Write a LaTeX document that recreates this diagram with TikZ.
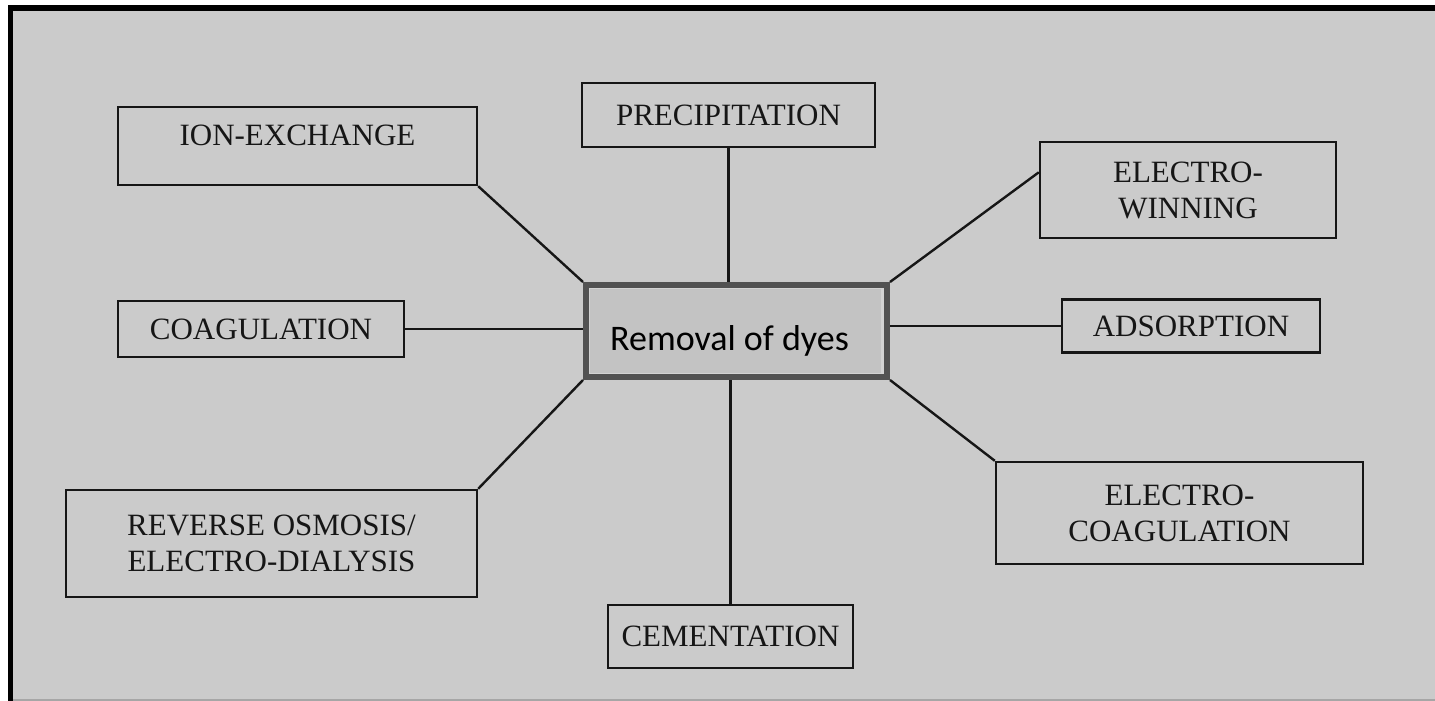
\documentclass[tikz,border=0pt]{standalone}
\usepackage{fontspec}
\setmainfont{Liberation Serif}
\newfontfamily\calfont{Carlito}
\usetikzlibrary{calc}
\definecolor{bggrey}{HTML}{CBCBCB}
\definecolor{ink}{HTML}{161616}
\definecolor{cborder}{HTML}{525252}
\definecolor{cband}{HTML}{D3D3D3}
\definecolor{cfill}{HTML}{C3C3C3}
\tikzset{
  procbox/.style={draw=ink, line width=1.2pt, fill=bggrey, inner sep=0pt, align=center,
    font=\fontsize{15.5pt}{18pt}\selectfont, text=ink},
  link/.style={draw=ink, line width=1.2pt},
  centrebox/.style={draw=cborder, line width=3pt, fill=cband, inner sep=0pt,
    minimum width=150.5pt, minimum height=46pt}
}
\begin{document}
\begin{tikzpicture}[x=0.5pt,y=-0.5pt]
\useasboundingbox (0,0) rectangle (1435,701);
\fill[white] (0,0) rectangle (1435,701);
\fill[bggrey] (8,5) rectangle (1435,701);
\fill[black] (8,5) rectangle (13,701);
\fill[black] (8,5) rectangle (1435,11);
\fill[gray!70] (13,699) rectangle (1435,701);

% outer boxes
\node[procbox, minimum width=179.5pt, minimum height=39pt, text depth=10.5pt] (ion) at (297.5,146) {ION-EXCHANGE};
\node[procbox, minimum width=146.5pt, minimum height=32pt] (prec) at (728.5,115) {PRECIPITATION};
\node[procbox, minimum width=148pt, minimum height=48pt] (ew) at (1188,190) {ELECTRO-\\WINNING};
\node[procbox, minimum width=143pt, minimum height=28pt] (coag) at (261,329) {COAGULATION};
\node[procbox, minimum width=129pt, minimum height=26.5pt] (ads) at (1191,326) {ADSORPTION};
\node[procbox, minimum width=205.5pt, minimum height=53.5pt] (ro) at (271.5,543.5) {REVERSE OSMOSIS/\\ELECTRO-DIALYSIS};
\node[procbox, minimum width=183.5pt, minimum height=51pt] (ec) at (1179.5,513) {ELECTRO-\\COAGULATION};
\node[procbox, minimum width=122.5pt, minimum height=31.5pt] (cem) at (730.5,636.5) {CEMENTATION};

% centre box (placed first for anchors)
\node[centrebox] (c) at (736.5,331) {};

% connectors
\draw[link] (ion.south east) -- (c.north west);
\draw[link] (prec.south) -- (prec.south |- c.north);
\draw[link] (c.north east) -- ($(ew.north west)!0.32!(ew.south west)$);
\draw[link] (coag.east) -- (coag.east -| c.west);
\draw[link] (ads.west) -- (ads.west -| c.east);
\draw[link] (ro.north east) -- (c.south west);
\draw[link] (c.south east) -- (ec.north west);
\draw[link] (cem.north |- c.south) -- (cem.north);

% redraw centre box over connector ends
\node[centrebox] (c2) at (c) {};
\fill[cfill] ($(c.north west)+(7,7)$) rectangle ($(c.south east)+(-9,-7)$);
\node[anchor=base, inner sep=0pt, font=\calfont\fontsize{18pt}{21pt}\selectfont, text=black] (ctext) at (729.5,350) {Removal of dyes};
\end{tikzpicture}
\end{document}
